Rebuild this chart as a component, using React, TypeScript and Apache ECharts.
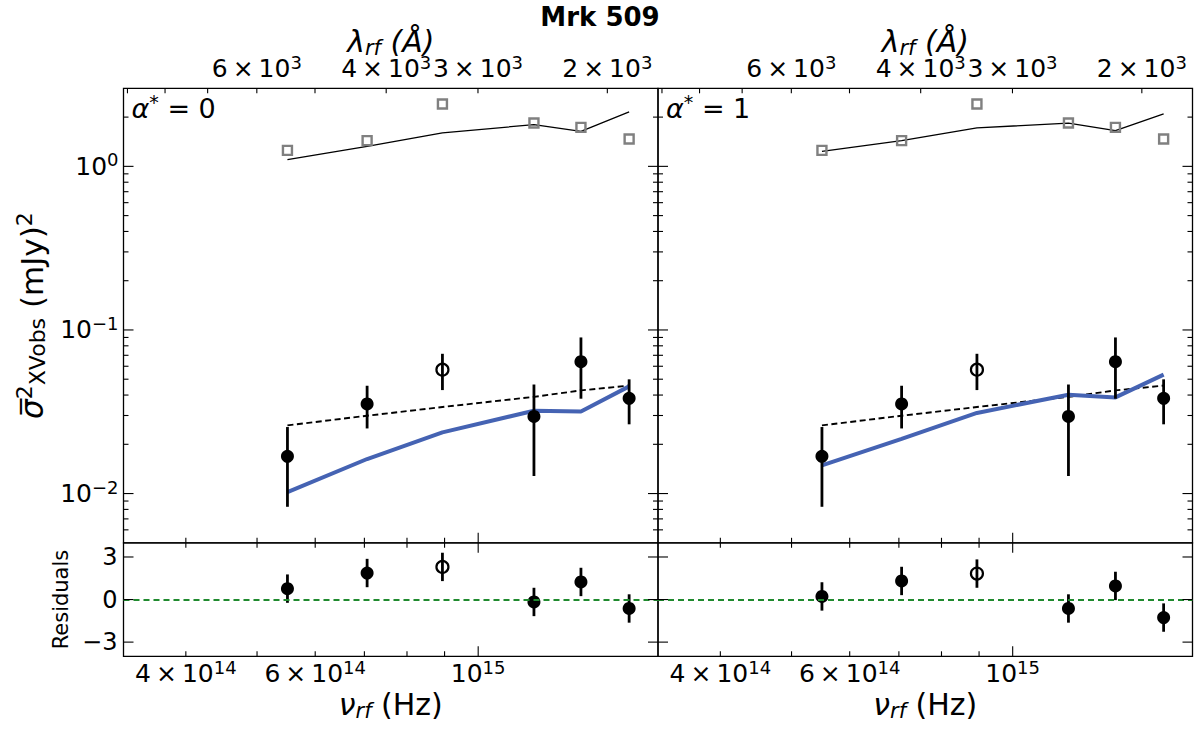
import { useEffect, useRef } from "react";
import * as echarts from "echarts";

const FONT = "DejaVu Sans";
const C_ANGSTROM = 2.998e18;

// rest-frame frequencies of the six bands (Hz)
const nuRf = [5.5e14, 7.06e14, 8.94e14, 1.191e15, 1.38e15, 1.605e15];
const isOpen = [false, false, true, false, false, false];

// excess variance (mJy^2)
const xvarObs = [0.0169, 0.0353, 0.0572, 0.0296, 0.064, 0.0382];
const xvarErr = [0.0086, 0.0103, 0.0143, 0.0168, 0.026, 0.0117];
const pwlFit = [0.0261, 0.0299, 0.0338, 0.039, 0.0427, 0.0457];
const modelA0 = [0.0102, 0.01626, 0.02366, 0.0321, 0.0317, 0.0452];
const modelA1 = [0.01487, 0.02157, 0.0311, 0.0402, 0.0387, 0.0533];
const refPoints = [1.252, 1.436, 2.405, 1.84, 1.73, 1.47];
const refLineA0 = [1.099, 1.325, 1.6, 1.8, 1.636, 2.15];
const refLineA1 = [1.235, 1.436, 1.717, 1.84, 1.652, 2.09];

// residuals
const residA0 = [0.77, 1.87, 2.3, -0.17, 1.24, -0.63];
const residA1 = [0.22, 1.31, 1.83, -0.63, 0.96, -1.27];
const residErr = [1, 1, 1, 1, 1, 1];

const freqRange = [3.29e14, 1.757e15];
const varRange = [0.005, 3];
const residRange = [-4, 4];

const freqTicks = [4e14, 5e14, 6e14, 7e14, 8e14, 9e14, 1e15];
const freqMajor = [1e15];
const freqLabelTicks = [4e14, 6e14, 1e15];
const freqLabels = [
  "{m|4\u2009×\u200910}{e|14}",
  "{m|6\u2009×\u200910}{e|14}",
  "{m|10}{e|15}",
];
const lamTicks = [9000, 8000, 7000, 6000, 5000, 4000, 3000, 2000];
const lamLabelTicks = [6000, 4000, 3000, 2000];
const lamLabels = [
  "{m|6\u2009×\u200910}{e|3}",
  "{m|4\u2009×\u200910}{e|3}",
  "{m|3\u2009×\u200910}{e|3}",
  "{m|2\u2009×\u200910}{e|3}",
];
const varTicks = [
  2, 1, 0.9, 0.8, 0.7, 0.6, 0.5, 0.4, 0.3, 0.2, 0.1, 0.09, 0.08, 0.07, 0.06,
  0.05, 0.04, 0.03, 0.02, 0.01, 0.009, 0.008, 0.007, 0.006,
];
const varMajor = [1, 0.1, 0.01];
const varLabels = ["{m|10}{e|0}", "{m|10}{e|\u22121}", "{m|10}{e|\u22122}"];
const residTicks = [3, 0, -3];
const residLabels = ["3", "0", "\u22123"];
const alphaLabels = ["0", "1"];

const lg = Math.log10;
const X_MIN = lg(freqRange[0]);
const X_MAX = lg(freqRange[1]);
const Y_MIN = lg(varRange[0]);
const Y_MAX = lg(varRange[1]);

// layout (px)
const L0 = 123.5;
const MID = 658;
const PW = 534.5;
const TOP = 88.3;
const SPLIT = 542.8;
const BOT = 656.3;

const TICK_DIR = [
  [0, -1],
  [0, 1],
  [1, 0],
  [-1, 0],
];

const labelRich = {
  m: { fontSize: 25, fontFamily: FONT, color: "#000" },
  e: { fontSize: 18, fontFamily: FONT, color: "#000", padding: [0, 0, 13, 0] },
};

function pickLabel(positions: number[], labels: string[]) {
  return (v: number) => {
    const i = positions.findIndex((p) => Math.abs(p - v) < 1e-6);
    return i >= 0 ? labels[i] : "";
  };
}

function isIn(list: number[], v: number) {
  return list.some((t) => Math.abs(t - v) < 1e-12 * Math.max(1, Math.abs(t)));
}

function tickSeries(xi: number, yi: number, data: number[][]) {
  return {
    type: "custom",
    xAxisIndex: xi,
    yAxisIndex: yi,
    silent: true,
    z: 6,
    data,
    renderItem: (_p: any, api: any) => {
      const pt = api.coord([api.value(0), api.value(1)]);
      const d = TICK_DIR[api.value(2)];
      const len = api.value(3) ? 10 : 5;
      return {
        type: "line",
        shape: { x1: pt[0], y1: pt[1], x2: pt[0] + d[0] * len, y2: pt[1] + d[1] * len },
        style: { stroke: "#000", lineWidth: 1.1 },
      };
    },
  };
}

function errorSeries(xi: number, yi: number, data: number[][]) {
  return {
    type: "custom",
    xAxisIndex: xi,
    yAxisIndex: yi,
    silent: true,
    z: 3,
    data,
    renderItem: (_p: any, api: any) => {
      const a = api.coord([api.value(0), api.value(1)]);
      const b = api.coord([api.value(0), api.value(2)]);
      return {
        type: "line",
        shape: { x1: a[0], y1: a[1], x2: b[0], y2: b[1] },
        style: { stroke: "#000", lineWidth: 2.8 },
      };
    },
  };
}

function panelSeries(col: number) {
  const model = col === 0 ? modelA0 : modelA1;
  const refLine = col === 0 ? refLineA0 : refLineA1;
  const resid = col === 0 ? residA0 : residA1;
  const mx = col * 2;
  const my = col;
  const rx = 4 + col;
  const ry = 2 + col;
  const lx = nuRf.map(lg);

  const mainTicks: number[][] = [];
  freqTicks.forEach((f) => mainTicks.push([lg(f), Y_MIN, 0, isIn(freqMajor, f) ? 1 : 0]));
  lamTicks.forEach((l) => mainTicks.push([lg(C_ANGSTROM / l), Y_MAX, 1, 0]));
  varTicks.forEach((v) => {
    const major = isIn(varMajor, v) ? 1 : 0;
    mainTicks.push([X_MIN, lg(v), 2, major]);
    mainTicks.push([X_MAX, lg(v), 3, major]);
  });

  const residTickData: number[][] = [];
  freqTicks.forEach((f) => {
    const major = isIn(freqMajor, f) ? 1 : 0;
    residTickData.push([lg(f), residRange[0], 0, major]);
    residTickData.push([lg(f), residRange[1], 1, major]);
  });
  residTicks.forEach((r) => {
    residTickData.push([X_MIN, r, 2, 1]);
    residTickData.push([X_MAX, r, 3, 1]);
  });

  const filledIdx = nuRf.map((_, i) => i).filter((i) => !isOpen[i]);
  const openIdx = nuRf.map((_, i) => i).filter((i) => isOpen[i]);

  return [
    {
      type: "line",
      xAxisIndex: mx,
      yAxisIndex: my,
      data: lx.map((x, i) => [x, lg(refLine[i])]),
      symbol: "none",
      lineStyle: { color: "#000", width: 1.3 },
      z: 2,
    },
    {
      type: "scatter",
      xAxisIndex: mx,
      yAxisIndex: my,
      data: lx.map((x, i) => [x, lg(refPoints[i])]),
      symbol: "rect",
      symbolSize: 9,
      itemStyle: { color: "rgba(0,0,0,0)", borderColor: "#808080", borderWidth: 2.4, opacity: 1 },
      z: 2,
    },
    {
      type: "line",
      xAxisIndex: mx,
      yAxisIndex: my,
      data: lx.map((x, i) => [x, lg(pwlFit[i])]),
      symbol: "none",
      lineStyle: { color: "#000", width: 1.9, type: [6, 3.5] },
      z: 2,
    },
    {
      type: "line",
      xAxisIndex: mx,
      yAxisIndex: my,
      data: lx.map((x, i) => [x, lg(model[i])]),
      symbol: "none",
      lineStyle: { color: "#4563b3", width: 4 },
      z: 2,
    },
    errorSeries(
      mx,
      my,
      lx.map((x, i) => [x, lg(xvarObs[i] - xvarErr[i]), lg(xvarObs[i] + xvarErr[i])])
    ),
    {
      type: "scatter",
      xAxisIndex: mx,
      yAxisIndex: my,
      data: filledIdx.map((i) => [lx[i], lg(xvarObs[i])]),
      symbol: "circle",
      symbolSize: 13,
      itemStyle: { color: "#000", opacity: 1 },
      z: 4,
    },
    {
      type: "scatter",
      xAxisIndex: mx,
      yAxisIndex: my,
      data: openIdx.map((i) => [lx[i], lg(xvarObs[i])]),
      symbol: "circle",
      symbolSize: 12,
      itemStyle: { color: "rgba(0,0,0,0)", borderColor: "#000", borderWidth: 2.2, opacity: 1 },
      z: 4,
    },
    tickSeries(mx, my, mainTicks),
    // residual panel
    errorSeries(
      rx,
      ry,
      lx.map((x, i) => [x, resid[i] - residErr[i], resid[i] + residErr[i]])
    ),
    {
      type: "scatter",
      xAxisIndex: rx,
      yAxisIndex: ry,
      data: filledIdx.map((i) => [lx[i], resid[i]]),
      symbol: "circle",
      symbolSize: 13,
      itemStyle: { color: "#000", opacity: 1 },
      z: 4,
      markLine: {
        silent: true,
        symbol: "none",
        label: { show: false },
        lineStyle: { color: "#1f8a2e", width: 1.9, type: [6, 4] },
        data: [{ yAxis: 0 }],
      },
    },
    {
      type: "scatter",
      xAxisIndex: rx,
      yAxisIndex: ry,
      data: openIdx.map((i) => [lx[i], resid[i]]),
      symbol: "circle",
      symbolSize: 12,
      itemStyle: { color: "rgba(0,0,0,0)", borderColor: "#000", borderWidth: 2.2, opacity: 1 },
      z: 4,
    },
    tickSeries(rx, ry, residTickData),
  ];
}

const hidden = {
  type: "value",
  splitLine: { show: false },
  axisTick: { show: false },
  axisLine: { show: false },
  axisLabel: { show: false },
};

function xAxes() {
  const freqPos = freqLabelTicks.map(lg);
  const lamPos = lamLabelTicks.map((l) => lg(C_ANGSTROM / l));
  const axes: any[] = [];
  [0, 1].forEach((col) => {
    axes.push({ ...hidden, gridIndex: col, position: "bottom", min: X_MIN, max: X_MAX });
    axes.push({
      ...hidden,
      gridIndex: col,
      position: "top",
      min: X_MIN,
      max: X_MAX,
      axisLabel: {
        show: true,
        customValues: lamPos,
        formatter: pickLabel(lamPos, lamLabels),
        margin: 4,
        color: "#000",
        rich: labelRich,
      },
      name: "{i|λ}{b|rf}{n| (Å)}",
      nameLocation: "middle",
      nameGap: 30,
      nameMoveOverlap: false,
      nameTextStyle: {
        color: "#000",
        rich: {
          i: { fontSize: 30, fontFamily: FONT, fontStyle: "italic", color: "#000" },
          b: { fontSize: 21, fontFamily: FONT, fontStyle: "italic", color: "#000", padding: [12, 0, 0, 0] },
          n: { fontSize: 30, fontFamily: FONT, fontStyle: "italic", color: "#000" },
        },
      },
    });
  });
  [0, 1].forEach((col) => {
    axes.push({
      ...hidden,
      gridIndex: 2 + col,
      position: "bottom",
      min: X_MIN,
      max: X_MAX,
      axisLabel: {
        show: true,
        customValues: freqPos,
        formatter: pickLabel(freqPos, freqLabels),
        margin: 2,
        color: "#000",
        rich: labelRich,
      },
      name: "{i|ν}{b|rf}{n| (Hz)}",
      nameLocation: "middle",
      nameGap: 32,
      nameTextStyle: {
        color: "#000",
        rich: {
          i: { fontSize: 30, fontFamily: FONT, fontStyle: "italic", color: "#000" },
          b: { fontSize: 21, fontFamily: FONT, fontStyle: "italic", color: "#000", padding: [12, 0, 0, 0] },
          n: { fontSize: 30, fontFamily: FONT, color: "#000" },
        },
      },
    });
  });
  return axes;
}

function yAxes() {
  const varPos = varMajor.map(lg);
  return [0, 1]
    .map((col) => ({
      ...hidden,
      gridIndex: col,
      position: "left",
      min: Y_MIN,
      max: Y_MAX,
      axisLabel:
        col === 0
          ? {
              show: true,
              customValues: varPos,
              formatter: pickLabel(varPos, varLabels),
              margin: 5,
              color: "#000",
              rich: labelRich,
            }
          : { show: false },
      name: col === 0 ? "{s|σ\u0305}{p|2}{b|XVobs}{n| (mJy)}{p|2}" : "",
      nameLocation: "middle",
      nameGap: 74,
      nameTextStyle: {
        color: "#000",
        rich: {
          s: { fontSize: 31, fontFamily: FONT, fontStyle: "italic", color: "#000" },
          p: { fontSize: 22, fontFamily: FONT, color: "#000", padding: [0, 0, 14, 0] },
          b: { fontSize: 22, fontFamily: FONT, color: "#000", padding: [12, 0, 0, 0] },
          n: { fontSize: 31, fontFamily: FONT, color: "#000" },
        },
      },
    }))
    .concat(
      [0, 1].map((col) => ({
        ...hidden,
        gridIndex: 2 + col,
        position: "left",
        min: residRange[0],
        max: residRange[1],
        axisLabel:
          col === 0
            ? {
                show: true,
                customValues: residTicks,
                formatter: pickLabel(residTicks, residLabels),
                margin: 6,
                color: "#000",
                fontSize: 24,
                fontFamily: FONT,
              }
            : { show: false },
        name: col === 0 ? "Residuals" : "",
        nameLocation: "middle",
        nameGap: 52,
        nameTextStyle: { color: "#000", fontSize: 21, fontFamily: FONT },
      })) as any
    );
}

export default function App() {
  const chartRef = useRef<HTMLDivElement>(null);

  useEffect(() => {
    if (!chartRef.current) return;
    const chart = echarts.init(chartRef.current, null, { renderer: "svg" });

    const gridBase = {
      show: true,
      borderColor: "#000",
      borderWidth: 1.3,
      backgroundColor: "transparent",
      containLabel: false,
      outerBoundsMode: "none",
    };

    chart.setOption({
      animation: false,
      backgroundColor: "#fff",
      textStyle: { fontFamily: FONT },
      grid: [
        { ...gridBase, left: L0, top: TOP, width: PW, height: SPLIT - TOP },
        { ...gridBase, left: MID, top: TOP, width: PW, height: SPLIT - TOP },
        { ...gridBase, left: L0, top: SPLIT, width: PW, height: BOT - SPLIT },
        { ...gridBase, left: MID, top: SPLIT, width: PW, height: BOT - SPLIT },
      ],
      xAxis: xAxes(),
      yAxis: yAxes(),
      series: [...panelSeries(0), ...panelSeries(1)],
      graphic: [
        {
          type: "text",
          x: 600,
          y: 17,
          style: {
            text: "Mrk 509",
            font: `bold 26px "${FONT}"`,
            fill: "#000",
            align: "center",
            verticalAlign: "middle",
          },
        },
        ...alphaLabels.map((a, i) => ({
          type: "text",
          x: (i === 0 ? L0 : MID) + 8,
          y: 108,
          style: {
            text: `{i|α}{p|*}{n| = ${a}}`,
            align: "left",
            verticalAlign: "middle",
            fill: "#000",
            rich: {
              i: { fontSize: 27, fontFamily: FONT, fontStyle: "italic", fill: "#000" },
              p: { fontSize: 19, fontFamily: FONT, fill: "#000", padding: [0, 0, 13, 0] },
              n: { fontSize: 27, fontFamily: FONT, fill: "#000" },
            },
          },
        })),
      ],
    });

    return () => {
      chart.dispose();
    };
  }, []);

  return (
    <div
      ref={chartRef}
      style={{ position: "fixed", left: 0, top: 0, width: 1200, height: 729, background: "#fff" }}
    />
  );
}
